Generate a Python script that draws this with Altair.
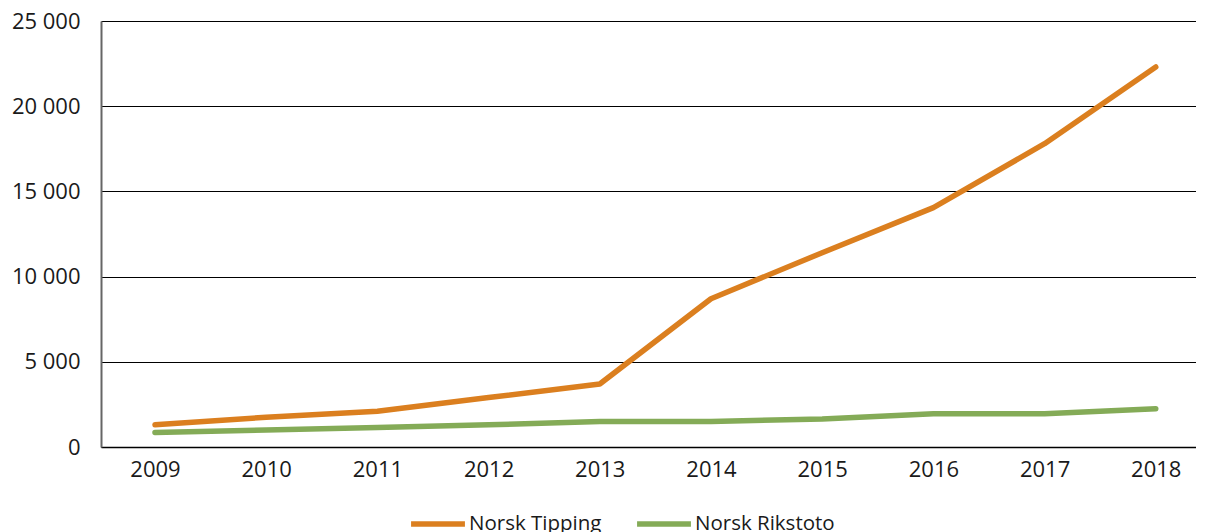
import altair as alt
import pandas as pd

years = ["2009", "2010", "2011", "2012", "2013", "2014", "2015", "2016", "2017", "2018"]
norsk_tipping = [1300, 1750, 2100, 2900, 3700, 8700, 11400, 14050, 17800, 22300]
norsk_rikstoto = [850, 1000, 1150, 1300, 1500, 1500, 1650, 1950, 1950, 2250]
series_names = ["Norsk Tipping", "Norsk Rikstoto"]
series_colors = ["#DB7F1F", "#84AB57"]
y_ticks = [0, 5000, 10000, 15000, 20000, 25000]

rows = []
for name, vals in zip(series_names, [norsk_tipping, norsk_rikstoto]):
    for yr, v in zip(years, vals):
        rows.append({"Year": yr, "Value": v, "Series": name})
df = pd.DataFrame(rows)

FONT = "Open Sans"
FS = 22

chart = (
    alt.Chart(df)
    .mark_line(strokeWidth=5.5, strokeCap="round", strokeJoin="round")
    .encode(
        x=alt.X(
            "Year:O",
            sort=years,
            title=None,
            scale=alt.Scale(type="point", padding=0.4236, align=0.573),
            axis=alt.Axis(
                labelAngle=0,
                ticks=False,
                domainColor="#000000",
                domainWidth=1.5,
                labelPadding=12,
                labelFontSize=FS,
                labelColor="#1a1a1a",
                grid=False,
            ),
        ),
        y=alt.Y(
            "Value:Q",
            title=None,
            scale=alt.Scale(domain=[0, 25000], nice=False),
            axis=alt.Axis(
                values=y_ticks,
                ticks=False,
                labelExpr="replace(format(datum.value, ','), ',', ' ')",
                labelPadding=21,
                labelFontSize=FS,
                labelColor="#1a1a1a",
                domainColor="#666666",
                domainWidth=2,
                grid=True,
                gridColor="#000000",
                gridWidth=1,
            ),
        ),
        color=alt.Color(
            "Series:N",
            scale=alt.Scale(domain=series_names, range=series_colors),
            legend=alt.Legend(
                title=None,
                orient="none",
                legendX=307,
                legendY=473,
                direction="horizontal",
                symbolType="stroke",
                symbolSize=2900,
                symbolStrokeWidth=5.5,
                labelFontSize=20.5,
                labelColor="#1a1a1a",
                labelOffset=1,
                columnPadding=24,
            ),
        ),
    )
    .properties(width=1095, height=426, padding={"left": 3, "top": 2, "right": 0, "bottom": 0})
    .configure_view(stroke=None)
    .configure(font=FONT)
)

chart.save("out.html", embed_options={"renderer": "svg", "actions": False})
